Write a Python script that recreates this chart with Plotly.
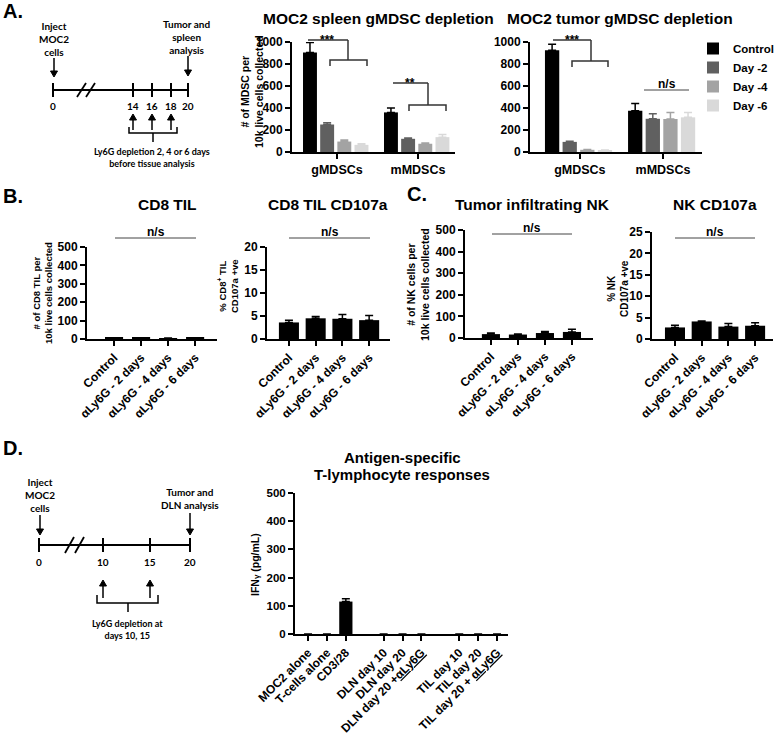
import plotly.graph_objects as go

W, H = 779, 734
FONT = "Liberation Sans, Arial, sans-serif"
TL_FONT = "Lato, Open Sans, sans-serif"

# ---- A: gMDSC depletion ----
mdsc_groups = ["gMDSCs", "mMDSCs"]
depletion_series = ["Control", "Day -2", "Day -4", "Day -6"]
series_colors = ["#000000", "#606060", "#a3a3a3", "#d9d9d9"]
spleen_mean = [[905, 360], [250, 120], [95, 75], [65, 135]]
spleen_err = [[90, 40], [15, 7], [15, 7], [10, 25]]
tumor_mean = [[925, 375], [92, 302], [20, 300], [15, 315]]
tumor_err = [[55, 65], [5, 45], [3, 60], [3, 45]]

# ---- B / C: TIL and NK ----
treatments = ["Control", "αLy6G - 2 days", "αLy6G - 4 days", "αLy6G - 6 days"]
cd8_til = [6, 6, 4, 6]
cd8_til_err = [1, 1, 1, 1]
cd8_cd107a = [3.6, 4.5, 4.4, 4.1]
cd8_cd107a_err = [0.5, 0.4, 0.9, 1.0]
nk_til = [18, 16, 23, 28]
nk_til_err = [5, 2, 7, 12]
nk_cd107a = [2.7, 4.1, 2.9, 3.1]
nk_cd107a_err = [0.5, 0.1, 0.7, 0.7]

# ---- D: IFNg ----
ifng_groups = ["MOC2 alone", "T-cells alone", "CD3/28", " ",
               "DLN day 10", "DLN day 20", "DLN day 20 +<u>αLy6G</u>", "  ",
               "TIL day 10", "TIL day 20", "TIL day 20 + <u>αLy6G</u>"]
ifng = [0, 0, 115, None, 0, 0, 0, None, 0, 0, 0]
ifng_err = [None, None, 10, None, None, None, None, None, None, None, None]


def px(x):
    return x / W


def py(y):
    return 1 - y / H


fig = go.Figure()
shapes = []
annotations = []


def bold(size, family=FONT):
    return dict(family=family, size=size, color="black", weight="bold")


def text(x, y, s, size, family=FONT, angle=0, xanchor="center", yanchor="middle"):
    annotations.append(dict(x=px(x), y=py(y), xref="paper", yref="paper", text=s,
                            showarrow=False, font=bold(size, family), textangle=angle,
                            xanchor=xanchor, yanchor=yanchor))


def line(x0, y0, x1, y1, width=2, color="black"):
    shapes.append(dict(type="line", xref="paper", yref="paper", x0=px(x0), y0=py(y0),
                       x1=px(x1), y1=py(y1), line=dict(color=color, width=width)))


def poly(points, width=1.5, color="black", fill=None):
    d = "M" + " L".join(f"{px(x)},{py(y)}" for x, y in points)
    if fill:
        d += " Z"
    shapes.append(dict(type="path", xref="paper", yref="paper", path=d,
                       fillcolor=fill, line=dict(color=color, width=width)))


def arrow(x, y_tail, y_head):
    # vertical arrow drawn as a line with a small filled head
    s = 1 if y_head > y_tail else -1
    line(x, y_tail, x, y_head - s * 4, 1.5)
    poly([(x - 3.5, y_head - s * 6), (x + 3.5, y_head - s * 6), (x, y_head)], 1, fill="black")


line_style = dict(showline=True, linecolor="black", linewidth=2, ticks="outside",
                  ticklen=5, tickwidth=2, tickcolor="black", showgrid=False,
                  zeroline=False, fixedrange=True, automargin=False)


def axes(i, x0, x1, y_top, y_bot, xr, yr, dtick, angle=0, xsize=12, ysize=12):
    sx = "" if i == 1 else str(i)
    fig.update_layout(**{
        "xaxis" + sx: dict(domain=[px(x0), px(x1)], anchor="y" + sx, range=xr,
                           type="category", tickangle=angle, tickfont=bold(xsize), **line_style),
        "yaxis" + sx: dict(domain=[py(y_bot), py(y_top)], anchor="x" + sx, range=yr,
                           dtick=dtick, tickfont=bold(ysize), **line_style),
    })


def err(vals, color="black"):
    return dict(type="data", array=vals, arrayminus=[0] * len(vals), symmetric=False,
                color=color, thickness=1.5, width=4)


# A charts
axes(1, 292, 455, 42, 152, [-0.556, 1.457], [0, 1000], 200, xsize=12.5)
axes(2, 530, 702, 42, 152, [-0.6, 1.47], [0, 1000], 200, xsize=12.5)
for k, (mean, er) in enumerate([(spleen_mean, spleen_err), (tumor_mean, tumor_err)]):
    sx = "" if k == 0 else "2"
    for s, name in enumerate(depletion_series):
        fig.add_trace(go.Bar(x=mdsc_groups, y=mean[s], name=name, legendgroup=name,
                             showlegend=(k == 0), width=0.172, offset=-0.42 + 0.212 * s,
                             marker=dict(color=series_colors[s], line_width=0),
                             error_y=err(er[s], series_colors[s]),
                             xaxis="x" + sx, yaxis="y" + sx))

# B / C charts
axes(3, 87, 217, 247, 339, [-1.0, 3.81], [0, 500], 100, angle=-45)
axes(4, 267, 390, 247, 339, [-0.82, 3.78], [0, 20], 5, angle=-45)
axes(5, 465, 593, 230, 338, [-0.96, 3.78], [0, 500], 100, angle=-45)
axes(6, 652, 773, 232, 339, [-0.86, 3.67], [0, 25], 5, angle=-45)
for i, (vals, er, wd) in enumerate([(cd8_til, cd8_til_err, 0.67), (cd8_cd107a, cd8_cd107a_err, 0.75),
                                    (nk_til, nk_til_err, 0.67), (nk_cd107a, nk_cd107a_err, 0.75)]):
    n = str(i + 3)
    fig.add_trace(go.Bar(x=treatments, y=vals, width=wd, showlegend=False,
                         marker=dict(color="black", line_width=0), error_y=err(er),
                         xaxis="x" + n, yaxis="y" + n))

# D chart
axes(7, 295, 508, 493, 634, [-0.69, 10.58], [0, 500], 100, angle=-45, xsize=12, ysize=11.5)
fig.update_layout(xaxis7=dict(tickmode="array", tickvals=[g for g in ifng_groups if g.strip()]))
fig.add_trace(go.Bar(x=ifng_groups, y=ifng, width=0.7, showlegend=False,
                     marker=dict(color="black", line_width=0), error_y=err(ifng_err),
                     xaxis="x7", yaxis="y7"))

# titles
text(378, 18, "MOC2 spleen gMDSC depletion", 15.5)
text(620, 18, "MOC2 tumor gMDSC depletion", 15.5)
text(167, 205, "CD8 TIL", 15.5)
text(328, 205, "CD8 TIL CD107a", 15.5)
text(532, 205, "Tumor infiltrating NK", 15.5)
text(715, 205, "NK CD107a", 15.5)
text(402, 457, "Antigen-specific", 15)
text(402, 474, "T-lymphocyte responses", 15)

# panel letters
text(1, 11, "A.", 20, xanchor="left")
text(1, 196, "B.", 20, xanchor="left")
text(405, 194, "C.", 20, xanchor="left")
text(1, 448, "D.", 20, xanchor="left")

# y-axis titles
text(252, 92, "# of MDSC per<br>10k live cells collected", 10.5, angle=-90)
text(43, 293, "# of CD8 TIL per<br>10k live cells collected", 9.5, angle=-90)
text(228, 286, "% CD8<sup>+</sup> TIL<br>CD107a +ve", 9.5, angle=-90)
text(418, 285, "# of NK cells per<br>10k live cells collected", 10.5, angle=-90)
text(618, 289, "% NK<br>CD107a +ve", 10, angle=-90)
text(255, 565, "IFN<span style='font-size:8px'>γ</span> (pg/mL)", 10.5, angle=-90)

# significance marks
sig = "#333333"
line(308, 40, 348, 40, 1.5, sig)
poly([(348, 40), (348, 60)], 1.5, sig)
poly([(330, 66), (330, 60), (367, 60), (367, 66)], 1.5, sig)
text(327, 40, "***", 12)
line(393, 83, 428, 83, 1.5, sig)
poly([(428, 83), (428, 105)], 1.5, sig)
poly([(409, 111), (409, 105), (446, 105), (446, 111)], 1.5, sig)
text(410, 83, "**", 12)
line(553, 40, 591, 40, 1.5, sig)
poly([(591, 40), (591, 61)], 1.5, sig)
poly([(572, 67), (572, 61), (608, 61), (608, 67)], 1.5, sig)
text(572, 40, "***", 12)
for x0, x1, y in [(644, 689, 90), (115, 196, 238), (289, 370, 238), (492, 572, 234), (675, 755, 238)]:
    line(x0, y, x1, y, 1, "#444444")
    text((x0 + x1) / 2, y - 6, "n/s", 12)

# timeline A
line(53, 90, 188, 90)
for x, lab in [(53, "0"), (133, "14"), (152, "16"), (171, "18"), (188, "20")]:
    line(x, 83, x, 97)
    text(x, 106, lab, 10, TL_FONT)
line(77, 97, 86, 83, 1.8)
line(86, 97, 95, 83, 1.8)
text(54, 39, "Inject<br>MOC2<br>cells", 10, TL_FONT)
arrow(54, 58, 77)
text(186, 37, "Tumor and<br>spleen<br>analysis", 10, TL_FONT)
arrow(188, 56, 76)
for x in [133, 152, 171]:
    arrow(x, 130, 114)
poly([(129, 127), (129, 133), (177, 133), (177, 127)], 1.5)
poly([(153, 133), (153, 142)], 1.5)
text(152, 158, "Ly6G depletion 2, 4 or 6 days<br>before tissue analysis", 9, TL_FONT)

# timeline D
line(39, 545, 190, 545)
for x, lab in [(39, "0"), (103, "10"), (150, "15"), (190, "20")]:
    line(x, 538, x, 552)
    text(x, 562, lab, 10, TL_FONT)
line(65, 553, 74, 537, 1.8)
line(75, 553, 84, 537, 1.8)
text(40, 495, "Inject<br>MOC2<br>cells", 10, TL_FONT)
arrow(40, 515, 535)
text(190, 498, "Tumor and<br>DLN analysis", 10, TL_FONT)
arrow(190, 513, 535)
for x in [103, 150]:
    arrow(x, 598, 580)
poly([(97, 595), (97, 603), (158, 603), (158, 595)], 1.5)
poly([(128, 603), (128, 612)], 1.5)
text(128, 629, "Ly6G depletion at<br>days 10, 15", 9, TL_FONT)

fig.update_layout(
    template="none",
    width=W, height=H, margin=dict(l=0, r=0, t=0, b=0, pad=0),
    paper_bgcolor="white", plot_bgcolor="white",
    barmode="group", shapes=shapes, annotations=annotations,
    legend=dict(x=1, y=py(34), xanchor="right", yanchor="top",
                font=bold(11.5), bgcolor="rgba(0,0,0,0)", tracegroupgap=0),
)

fig.write_html("out.html", config={"displayModeBar": False},
               post_script="document.body.style.margin='0';")
